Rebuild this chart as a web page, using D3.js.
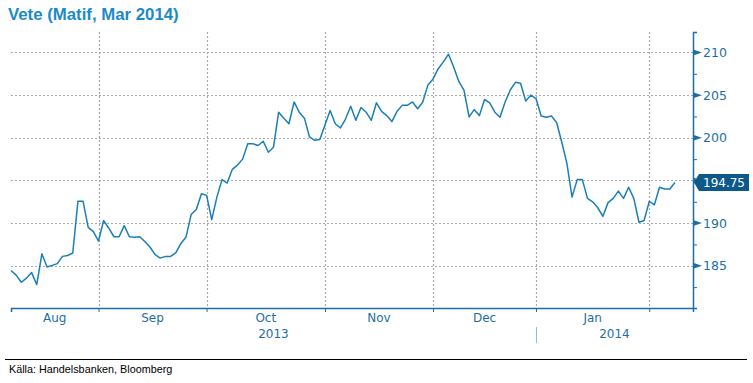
<!DOCTYPE html>
<html>
<head>
<meta charset="utf-8">
<script src="https://cdn.jsdelivr.net/npm/d3@7"></script>
<style>
  html, body { margin: 0; padding: 0; background: #fff; }
  svg { display: block; }
</style>
</head>
<body>
<svg id="chart" width="753" height="383"></svg>
<script>
// ---- Data ----
const title = "Vete (Matif, Mar 2014)";
const source = "Källa: Handelsbanken, Bloomberg";
// daily closing prices (trading days, Aug 2013 – Feb 2014)
const prices = [
  184.45, 183.9, 183.07, 183.55, 184.2, 182.8, 186.4, 184.85, 185.05, 185.25,
  186.1, 186.2, 186.5, 192.55, 192.55, 189.5, 189.0, 187.9, 190.3, 189.4,
  188.4, 188.4, 189.7, 188.4, 188.35, 188.4, 187.85, 187.2, 186.3, 185.9,
  186.1, 186.1, 186.5, 187.6, 188.35, 191.0, 191.6, 193.45, 193.25, 190.4,
  193.05, 195.1, 194.7, 196.3, 196.8, 197.5, 199.3, 199.3, 199.1, 199.6,
  198.3, 198.9, 203.0, 202.3, 201.65, 204.2, 203.0, 202.3, 200.1, 199.7,
  199.8, 201.5, 203.2, 201.65, 201.15, 202.2, 203.7, 202.05, 203.55, 203.0,
  202.05, 204.1, 203.1, 202.6, 201.9, 203.1, 203.8, 203.8, 204.2, 203.4,
  204.2, 206.2, 206.9, 208.1, 208.9, 209.8, 208.3, 206.6, 205.6, 202.45,
  203.3, 202.6, 204.5, 204.1, 203.0, 202.4, 204.2, 205.6, 206.5, 206.4,
  204.3, 205.0, 204.6, 202.55, 202.4, 202.55, 201.8, 199.5, 197.0, 193.05,
  195.1, 195.1, 192.9, 192.5, 191.8, 190.8, 192.4, 192.9, 193.75, 192.9,
  194.2, 192.9, 190.1, 190.3, 192.55, 192.15, 194.2, 194.0, 194.0, 194.75
];
const lastLabel = "194.75";
// month boundaries as trading-day index
const monthStarts = [17, 38, 61, 82, 102, 124];
const monthLabels = ["Aug", "Sep", "Oct", "Nov", "Dec", "Jan"];
const monthEdges = [0, 17, 38, 61, 82, 102, 124];
const years = [
  { label: "2013", from: 0, to: 102 },
  { label: "2014", from: 102, to: 132.5 }
];
const yMajor = [185, 190, 195, 200, 205, 210];
// 195 is hidden behind the last-value box in the original
const yLabels = [185, 190, 200, 205, 210];
const yMinor = [182.5, 187.5, 192.5, 197.5, 202.5, 207.5];
const xDomain = [0, 132.5];
const yDomain = [180.05, 212.4];

// ---- Layout ----
const pL = 11, pR = 693, pT = 32, pB = 308;
const lineColor = "#1b7fb7";
const axisColor = "#1f6ea3";
const gridColor = "#a8a8a8";

const svg = d3.select("#chart");
const x = d3.scaleLinear().domain(xDomain).range([pL, pR]);
const y = d3.scaleLinear().domain(yDomain).range([pB, pT]);

// title
svg.append("text")
  .attr("x", 8).attr("y", 19.5)
  .attr("font-family", "Liberation Sans, Arial, sans-serif")
  .attr("font-weight", "bold")
  .attr("font-size", 16.8)
  .attr("fill", "#1a8bc9")
  .text(title);

// horizontal grid
svg.append("g").selectAll("line").data(yMajor).join("line")
  .attr("x1", pL).attr("x2", pR)
  .attr("y1", d => Math.round(y(d)) + 0.5).attr("y2", d => Math.round(y(d)) + 0.5)
  .attr("stroke", gridColor).attr("stroke-width", 1.2)
  .attr("stroke-dasharray", "2,2");

// vertical grid
svg.append("g").selectAll("line").data(monthStarts).join("line")
  .attr("x1", d => Math.round(x(d)) + 0.5).attr("x2", d => Math.round(x(d)) + 0.5)
  .attr("y1", pT).attr("y2", pB)
  .attr("stroke", gridColor).attr("stroke-width", 1.2)
  .attr("stroke-dasharray", "2,2");

// line
const line = d3.line().x((d, i) => x(i)).y(d => y(d));
svg.append("path")
  .datum(prices)
  .attr("d", line)
  .attr("fill", "none")
  .attr("stroke", lineColor)
  .attr("stroke-width", 1.5)
  .attr("stroke-linejoin", "round");

// bottom axis
const xAxis = d3.axisBottom(x).tickValues(monthStarts).tickSize(4).tickFormat("");
const gx = svg.append("g").attr("transform", `translate(0,${pB})`).call(xAxis);
gx.select(".domain").attr("stroke", axisColor).attr("stroke-width", 1.5);
gx.selectAll(".tick line").attr("stroke", axisColor).attr("stroke-width", 1);

// month labels
svg.append("g").selectAll("text").data(monthLabels).join("text")
  .attr("x", (d, i) => (x(monthEdges[i]) + x(monthEdges[i + 1])) / 2)
  .attr("y", 322)
  .attr("text-anchor", "middle")
  .attr("font-family", "DejaVu Sans, Verdana, sans-serif")
  .attr("font-size", 12)
  .attr("fill", axisColor)
  .text(d => d);

// year labels
svg.append("g").selectAll("text").data(years).join("text")
  .attr("x", d => (x(d.from) + x(d.to)) / 2)
  .attr("y", 338)
  .attr("text-anchor", "middle")
  .attr("font-family", "DejaVu Sans, Verdana, sans-serif")
  .attr("font-size", 12)
  .attr("fill", axisColor)
  .text(d => d.label);
// year separator
svg.append("line")
  .attr("x1", Math.round(x(years[1].from)) + 0.5).attr("x2", Math.round(x(years[1].from)) + 0.5)
  .attr("y1", 327).attr("y2", 343)
  .attr("stroke", "#8fbfdc").attr("stroke-width", 1);

// right axis
const yAxis = d3.axisRight(y).tickValues(yMinor).tickSize(4).tickFormat("");
const gy = svg.append("g").attr("transform", `translate(${pR},0)`).call(yAxis);
gy.select(".domain").attr("stroke", axisColor).attr("stroke-width", 1.5);
gy.selectAll(".tick line").attr("stroke", axisColor).attr("stroke-width", 1);

// major markers (triangles) + labels
const majors = svg.append("g");
majors.selectAll("path").data(yMajor).join("path")
  .attr("d", d => `M${pR},${y(d) - 3}L${pR + 9},${y(d)}L${pR},${y(d) + 3}Z`)
  .attr("fill", axisColor);
majors.selectAll("text").data(yLabels).join("text")
  .attr("x", pR + 10)
  .attr("y", d => y(d) + 4.5)
  .attr("font-family", "DejaVu Sans, Verdana, sans-serif")
  .attr("font-size", 12.5)
  .attr("fill", axisColor)
  .text(d => d);

// last value box
const lastY = y(prices[prices.length - 1]);
svg.append("path")
  .attr("d", `M${pR + 1},${lastY}L${pR + 6},${lastY - 8.5}L${749},${lastY - 8.5}L${749},${lastY + 8.5}L${pR + 6},${lastY + 8.5}Z`)
  .attr("fill", "#0d5a8a");
svg.append("text")
  .attr("x", 703).attr("y", lastY + 4.5)
  .attr("font-family", "DejaVu Sans, Verdana, sans-serif")
  .attr("font-size", 12)
  .attr("fill", "#ffffff")
  .text(lastLabel);

// footer
svg.append("line")
  .attr("x1", 5).attr("x2", 747)
  .attr("y1", 359.5).attr("y2", 359.5)
  .attr("stroke", "#000").attr("stroke-width", 1.2);
svg.append("text")
  .attr("x", 9).attr("y", 373)
  .attr("font-family", "Liberation Sans, Arial, sans-serif")
  .attr("font-size", 10.8)
  .attr("fill", "#000")
  .text(source);
</script>
</body>
</html>
